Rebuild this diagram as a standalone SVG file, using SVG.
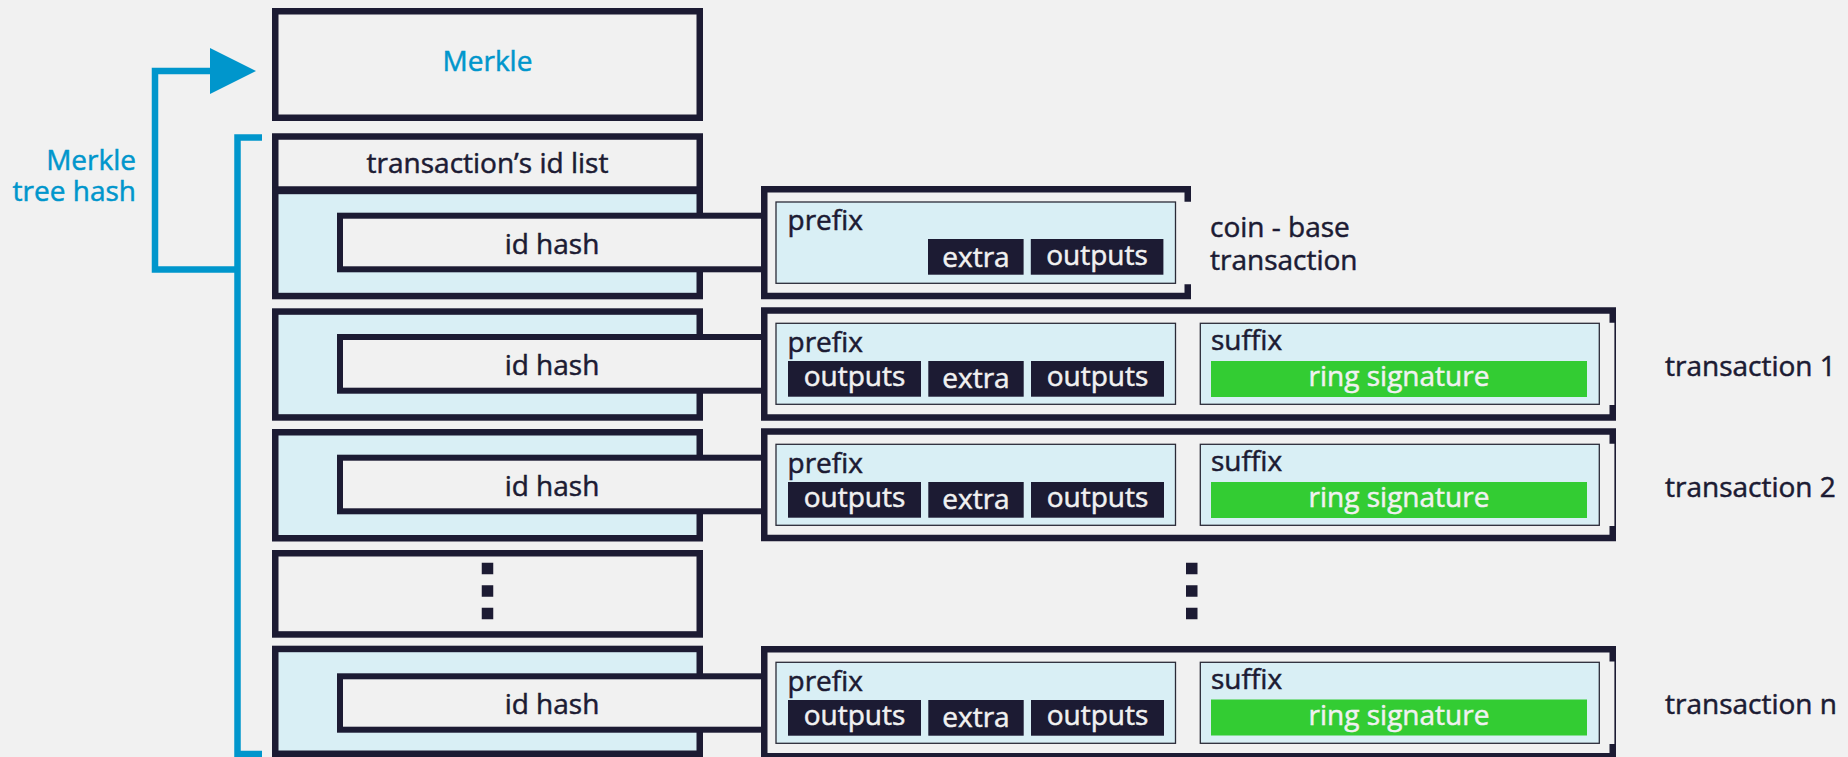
<svg xmlns="http://www.w3.org/2000/svg" width="1848" height="757" viewBox="0 0 1848 757">
<defs>
<style>
.box{fill:#f1f1f1;stroke:#1c1b33;stroke-width:6.5}
.lbox{fill:#d9eff5;stroke:#1c1b33;stroke-width:6.5}
.idh{fill:#f1f1f1;stroke:#1c1b33;stroke-width:6}
.tx{fill:none;stroke:#1c1b33;stroke-width:6.5}
.thin{fill:none;stroke:#1c1b33;stroke-width:1.6}
.part{fill:#d9eff5;stroke:#2b2b38;stroke-width:1.3}
.chip{fill:#1c1b33}
.ring{fill:#33cc33}
.dot{fill:#1c1b33}
text{font-family:"Open Sans","Noto Sans",sans-serif;font-size:28px;fill:#1c1b33;stroke:#1c1b33;stroke-width:0.5}
.c{text-anchor:middle}
.e{text-anchor:end}
.w{fill:#f1f1f1;stroke:#f1f1f1}
.b{fill:#0096cc;stroke:#0096cc}
.conn{fill:none;stroke:#0096cc;stroke-width:6.5}
</style>
</defs>
<rect x="0" y="0" width="1848" height="757" fill="#f1f1f1"/>

<g id="connectors">
<path class="conn" d="M262,137.5 H237.5 V754 H262"/>
<path class="conn" d="M237.5,269.5 H155 V71 H213"/>
<polygon points="210,48 256,71 210,94" fill="#0096cc"/>
<text class="b e" x="136" y="170">Merkle</text>
<text class="b e" x="136" y="201">tree hash</text>
</g>

<g id="merkle">
<rect class="box" x="275.25" y="11.25" width="424.5" height="106.5"/>
<text class="b c" x="487.5" y="71">Merkle</text>
</g>

<g id="id-list">
<rect class="box" x="275.25" y="136.5" width="424.5" height="53"/>
<text class="c" x="487.5" y="173">transaction’s id list</text>
</g>

<g id="row0">
<rect class="lbox" x="275.25" y="190.95" width="424.5" height="105.1"/>
<rect class="idh" x="340" y="215.7" width="424" height="53.6"/>
<text class="c" x="552" y="253.5">id hash</text>
</g>
<g id="row1">
<rect class="lbox" x="275.25" y="311.55" width="424.5" height="105.9"/>
<rect class="idh" x="340" y="337" width="424" height="53.7"/>
<text class="c" x="552" y="375">id hash</text>
</g>
<g id="row2">
<rect class="lbox" x="275.25" y="432.25" width="424.5" height="106"/>
<rect class="idh" x="340" y="457.7" width="424" height="53.6"/>
<text class="c" x="552" y="496">id hash</text>
</g>
<g id="row-dots">
<rect class="box" x="275.25" y="553.25" width="424.5" height="81.2"/>
<rect class="dot" x="481.75" y="562.75" width="11.5" height="11.5"/>
<rect class="dot" x="481.75" y="585.25" width="11.5" height="11.5"/>
<rect class="dot" x="481.75" y="607.75" width="11.5" height="11.5"/>
</g>
<g id="rown">
<rect class="lbox" x="275.25" y="648.95" width="424.5" height="104.8"/>
<rect class="idh" x="340" y="676.3" width="424" height="53.4"/>
<text class="c" x="552" y="714">id hash</text>
</g>

<g id="tx-coinbase">
<path class="tx" d="M1187.75,201.7 V189.25 H764.25 V296.05 H1187.75 V284.3"/>
<rect class="part" x="776" y="202" width="399.5" height="81.3"/>
<text x="787.5" y="229.5">prefix</text>
<rect class="chip" x="928" y="239" width="95.6" height="35.7"/>
<text class="c w" x="976" y="267">extra</text>
<rect class="chip" x="1030.8" y="239" width="132.6" height="35.7"/>
<text class="c w" x="1097" y="264.7">outputs</text>
<text x="1210" y="237">coin - base</text>
<text x="1210" y="269.5">transaction</text>
</g>

<g id="tx1">
<path class="tx" d="M1612.75,322.7 V310.55 H764.25 V417.45 H1612.75 V405"/>
<path class="thin" d="M1615.2,320 V408"/>
<rect class="part" x="776" y="323.3" width="399.5" height="81"/>
<text x="787.5" y="351.5">prefix</text>
<rect class="chip" x="788" y="361" width="133" height="35.7"/>
<text class="c w" x="854.5" y="386">outputs</text>
<rect class="chip" x="928.3" y="361" width="95.4" height="35.7"/>
<text class="c w" x="976" y="388.3">extra</text>
<rect class="chip" x="1031" y="361" width="133" height="35.7"/>
<text class="c w" x="1097.5" y="386">outputs</text>
<rect class="part" x="1200.3" y="323.3" width="399" height="81"/>
<text x="1211" y="350">suffix</text>
<rect class="ring" x="1211" y="361" width="376" height="36"/>
<text class="c w" x="1399" y="386">ring signature</text>
<text x="1665" y="376">transaction 1</text>
</g>

<g id="tx2">
<path class="tx" d="M1612.75,443.7 V431.55 H764.25 V538.05 H1612.75 V526"/>
<path class="thin" d="M1615.2,441 V529"/>
<rect class="part" x="776" y="444.3" width="399.5" height="81"/>
<text x="787.5" y="472.5">prefix</text>
<rect class="chip" x="788" y="482" width="133" height="35.7"/>
<text class="c w" x="854.5" y="507">outputs</text>
<rect class="chip" x="928.3" y="482" width="95.4" height="35.7"/>
<text class="c w" x="976" y="509.3">extra</text>
<rect class="chip" x="1031" y="482" width="133" height="35.7"/>
<text class="c w" x="1097.5" y="507">outputs</text>
<rect class="part" x="1200.3" y="444.3" width="399" height="81"/>
<text x="1211" y="471">suffix</text>
<rect class="ring" x="1211" y="482" width="376" height="36"/>
<text class="c w" x="1399" y="507">ring signature</text>
<text x="1665" y="496.7">transaction 2</text>
</g>

<g id="tx-dots">
<rect class="dot" x="1186" y="562.75" width="11.5" height="11.5"/>
<rect class="dot" x="1186" y="585.25" width="11.5" height="11.5"/>
<rect class="dot" x="1186" y="607.75" width="11.5" height="11.5"/>
</g>

<g id="txn">
<path class="tx" d="M1612.75,661.4 V649.25 H764.25 V756.15 H1612.75 V744"/>
<path class="thin" d="M1615.2,659 V747"/>
<rect class="part" x="776" y="662.3" width="399.5" height="81"/>
<text x="787.5" y="690.5">prefix</text>
<rect class="chip" x="788" y="700" width="133" height="35.7"/>
<text class="c w" x="854.5" y="725">outputs</text>
<rect class="chip" x="928.3" y="700" width="95.4" height="35.7"/>
<text class="c w" x="976" y="727.3">extra</text>
<rect class="chip" x="1031" y="700" width="133" height="35.7"/>
<text class="c w" x="1097.5" y="725">outputs</text>
<rect class="part" x="1200.3" y="662.3" width="399" height="81"/>
<text x="1211" y="689">suffix</text>
<rect class="ring" x="1211" y="699.5" width="376" height="36"/>
<text class="c w" x="1399" y="725">ring signature</text>
<text x="1665" y="714">transaction n</text>
</g>
</svg>
